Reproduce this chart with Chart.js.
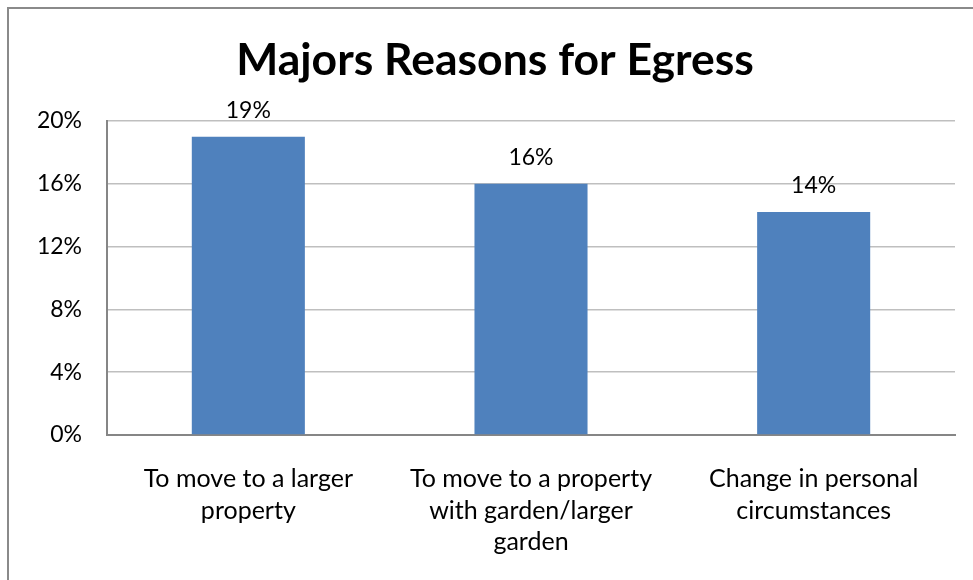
<!DOCTYPE html>
<html>
<head>
<meta charset="utf-8">
<script src="https://cdn.jsdelivr.net/npm/chart.js@4/dist/chart.umd.min.js"></script>
<style>
  html, body { margin: 0; padding: 0; background: #fff; }
  #wrap { position: relative; width: 973px; height: 580px; }
</style>
</head>
<body>
<div id="wrap"><canvas id="c" width="973" height="580"></canvas></div>
<script>
const categories = [
  ["To move to a larger", "property"],
  ["To move to a property", "with garden/larger", "garden"],
  ["Change in personal", "circumstances"]
];
const values = [19, 16, 14.2];
const valueLabels = ["19%", "16%", "14%"];
const yTicks = [0, 4, 8, 12, 16, 20];
const titleText = "Majors Reasons for Egress";

const FONT = "Lato, 'Open Sans', sans-serif";

const frame = {
  id: 'frame',
  beforeDraw(chart) {
    const ctx = chart.ctx;
    ctx.save();
    ctx.fillStyle = '#ffffff';
    ctx.fillRect(0, 0, chart.width, chart.height);
    ctx.strokeStyle = '#8a8a8a';
    ctx.lineWidth = 2;
    ctx.strokeRect(8, 8, 1200, 1200);
    ctx.restore();
  }
};

const titleDraw = {
  id: 'titleDraw',
  afterDraw(chart) {
    const ctx = chart.ctx;
    ctx.save();
    ctx.font = "bold 44.5px " + FONT;
    ctx.fillStyle = '#000';
    ctx.textAlign = 'center';
    ctx.textBaseline = 'middle';
    ctx.fillText(titleText, 495, 61);
    ctx.restore();
  }
};

const dataLabels = {
  id: 'dataLabels',
  afterDatasetsDraw(chart) {
    const ctx = chart.ctx;
    const meta = chart.getDatasetMeta(0);
    ctx.save();
    ctx.font = "23px " + FONT;
    ctx.fillStyle = '#000';
    ctx.textAlign = 'center';
    ctx.textBaseline = 'alphabetic';
    meta.data.forEach((bar, i) => {
      ctx.fillText(valueLabels[i], bar.x, bar.y - 19);
    });
    ctx.restore();
  }
};

new Chart(document.getElementById('c'), {
  type: 'bar',
  data: {
    labels: categories,
    datasets: [{
      data: values,
      backgroundColor: '#4F81BD',
      borderWidth: 0,
      barPercentage: 0.4,
      categoryPercentage: 1.0
    }]
  },
  options: {
    responsive: false,
    animation: false,
    layout: { padding: { left: 8, right: 18, top: 121, bottom: 0 } },
    plugins: {
      legend: { display: false },
      tooltip: { enabled: false },
      title: { display: false }
    },
    scales: {
      x: {
        grid: { display: false, drawTicks: false },
        border: { display: true, color: '#868686', width: 2 },
        ticks: {
          color: '#000',
          font: { family: FONT, size: 25, lineHeight: 1.27 },
          padding: 28,
          maxRotation: 0,
          autoSkip: false
        },
        afterFit(s) { s.height = 145; }
      },
      y: {
        min: 0, max: 20,
        afterBuildTicks(s) { s.ticks = yTicks.map(v => ({ value: v })); },
        grid: { color: '#BFBFBF', lineWidth: 1.5, drawTicks: false },
        border: { display: true, color: '#868686', width: 2 },
        ticks: {
          color: '#000',
          font: { family: FONT, size: 23 },
          padding: 25,
          callback: v => v + '%'
        },
        afterFit(s) { s.width = 99; }
      }
    }
  },
  plugins: [frame, dataLabels, titleDraw]
});
</script>
</body>
</html>
